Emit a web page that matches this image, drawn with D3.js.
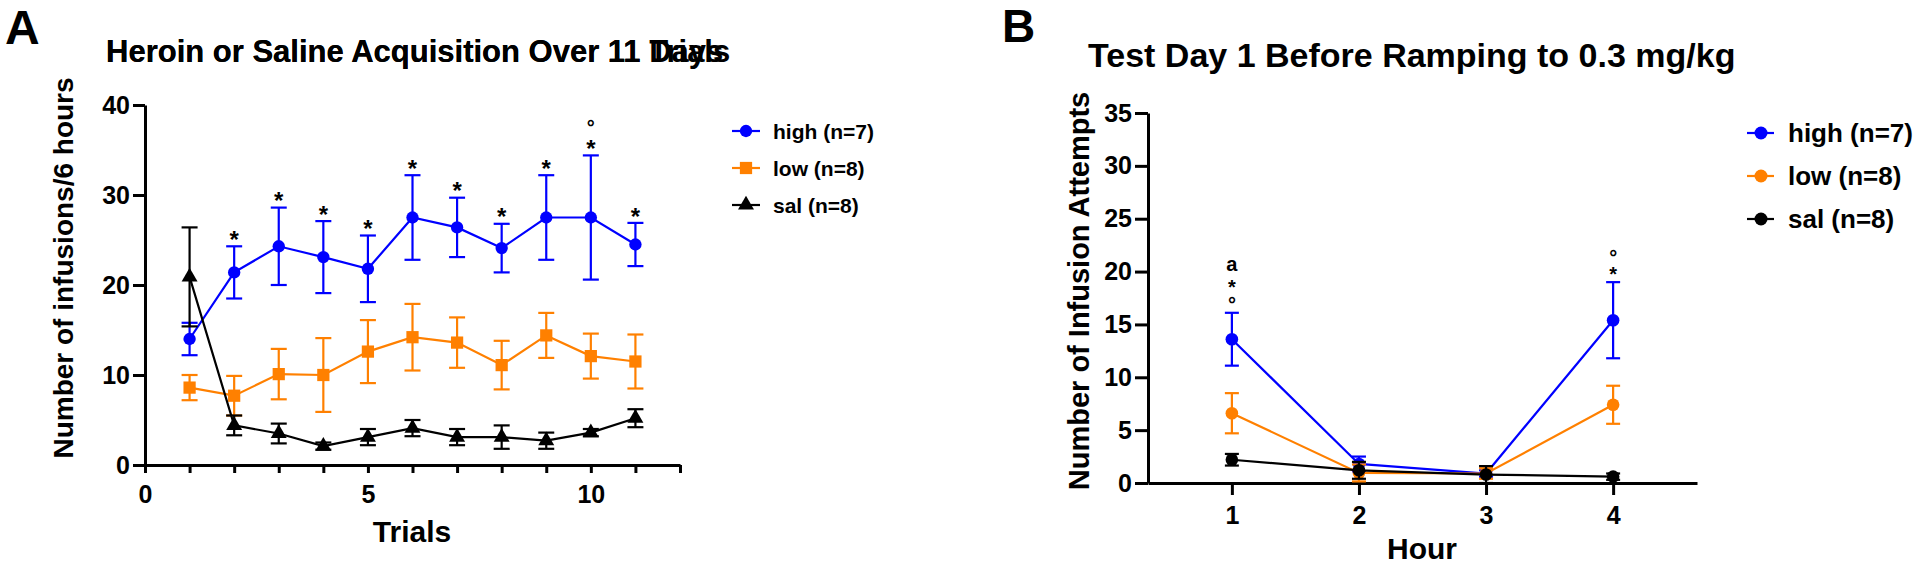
<!DOCTYPE html>
<html><head><meta charset="utf-8">
<script src="https://cdn.jsdelivr.net/npm/d3@7"></script>
<style>
body{margin:0;background:#fff}
svg{display:block}
text{font-family:"Liberation Sans",Arial,Helvetica,sans-serif;font-weight:bold;fill:#000}
</style>
</head><body>
<svg id="c" width="1920" height="565"></svg>
<script>
// ---------- DATA ----------
const trials = [1,2,3,4,5,6,7,8,9,10,11];
const highA = [14.0,21.4,24.3,23.1,21.8,27.5,26.4,24.1,27.5,27.5,24.5];
const highAsem = [1.8,2.9,4.3,4.0,3.7,4.7,3.3,2.7,4.7,6.9,2.4];
const lowA = [8.6,7.7,10.1,10.0,12.6,14.2,13.6,11.1,14.4,12.1,11.5];
const lowAsem = [1.4,2.2,2.8,4.1,3.5,3.7,2.8,2.7,2.5,2.5,3.0];
const salA = [20.9,4.4,3.5,2.1,3.1,4.1,3.1,3.1,2.7,3.6,5.2];
const salAsem = [5.5,1.1,1.1,0.4,0.9,0.9,0.9,1.3,0.9,0.4,1.0];
const xTicksA = [0,1,2,3,4,5,6,7,8,9,10,11,12];
const xLabelsA = [0,5,10];
const yTicksA = [0,10,20,30,40];
const annTrialsA = [2,3,4,5,6,7,8,9,10,11];
const annMarksA = [["*"],["*"],["*"],["*"],["*"],["*"],["*"],["*"],["*","°"],["*"]];

const hours = [1,2,3,4];
const highB = [13.6,1.8,0.9,15.4];
const highBsem = [2.5,0.7,0.3,3.6];
const lowB = [6.6,0.95,0.9,7.4];
const lowBsem = [1.9,0.8,0.5,1.8];
const salB = [2.2,1.2,0.8,0.6];
const salBsem = [0.55,0.8,0.8,0.3];
const yTicksB = [0,5,10,15,20,25,30,35];
const annHoursB = [1,4];
const annMarksB = [["°","*","a"],["*","°"]];

const seriesNames = ["high (n=7)","low (n=8)","sal (n=8)"];
const colors = ["#0000ff","#ff8000","#000000"];

// ---------- SETUP ----------
const svg = d3.select("#c");

function styleAxis(g, fs){
  g.selectAll(".domain").attr("stroke","#000").attr("stroke-width",3);
  g.selectAll(".tick line").attr("stroke","#000").attr("stroke-width",3);
  g.selectAll(".tick text").attr("fill","#000").style("font-size",fs+"px")
    .style("font-family",'"Liberation Sans",Arial,sans-serif').style("font-weight","bold");
}

function glyphBaseOffset(ch, fs){
  if (ch === "a") return 0.27*fs;
  return 0.57*fs;
}

function drawSeries(g, x, y, xs, means, sems, color, sym, symSize, capHalf){
  const line = d3.line().x((d,i)=>x(xs[i])).y(d=>y(d));
  g.append("path").datum(means).attr("d",line).attr("fill","none")
    .attr("stroke",color).attr("stroke-width",2.2);
  const eb = g.append("g").attr("stroke",color).attr("stroke-width",2.2);
  means.forEach((m,i)=>{
    const cx = x(xs[i]), y1 = y(m+sems[i]), y0 = y(m-sems[i]);
    eb.append("line").attr("x1",cx).attr("x2",cx).attr("y1",y1).attr("y2",y0);
    eb.append("line").attr("x1",cx-capHalf).attr("x2",cx+capHalf).attr("y1",y1).attr("y2",y1);
    eb.append("line").attr("x1",cx-capHalf).attr("x2",cx+capHalf).attr("y1",y0).attr("y2",y0);
  });
  g.selectAll(null).data(means).enter().append("path")
    .attr("d", d3.symbol().type(sym).size(symSize))
    .attr("transform",(d,i)=>`translate(${x(xs[i])},${y(d)})`)
    .attr("fill",color);
}

// ---------- PANEL A ----------
const xA = d3.scaleLinear().domain([0,12]).range([145,680]);
const yA = d3.scaleLinear().domain([0,40]).range([465,105]);

svg.append("text").attr("x",5).attr("y",44).style("font-size","48px").text("A");
svg.append("text").attr("x",106).attr("y",62).style("font-size","31px").text("Heroin or Saline Acquisition Over 11 Trials");
svg.append("text").attr("x",106).attr("y",62).style("font-size","31px").text("Heroin or Saline Acquisition Over 11 Days");

const gAy = svg.append("g").attr("transform","translate(145,0)")
  .call(d3.axisLeft(yA).tickValues(yTicksA).tickSize(12).tickSizeOuter(0).tickPadding(3));
styleAxis(gAy, 25);
const gAx = svg.append("g").attr("transform","translate(0,465)")
  .call(d3.axisBottom(xA).tickValues(xTicksA).tickSize(8).tickSizeOuter(0).tickPadding(12)
    .tickFormat(d=> xLabelsA.includes(d) ? d : ""));
styleAxis(gAx, 25);

svg.append("text").attr("x",412).attr("y",542).attr("text-anchor","middle").style("font-size","30px").text("Trials");
svg.append("text").attr("transform","translate(73,268) rotate(-90)").attr("text-anchor","middle")
  .style("font-size","28px").text("Number of infusions/6 hours");

const gA = svg.append("g");
drawSeries(gA, xA, yA, trials, highA, highAsem, colors[0], d3.symbolCircle, 120, 8);
drawSeries(gA, xA, yA, trials, lowA, lowAsem, colors[1], d3.symbolSquare, 150, 8);
drawSeries(gA, xA, yA, trials, salA, salAsem, colors[2], d3.symbolTriangle, 110, 8);

annTrialsA.forEach((t,i)=>{
  const idx = trials.indexOf(t);
  const top = yA(highA[idx]+highAsem[idx]);
  annMarksA[i].forEach((ch,k)=>{
    const fs = ch==="*"?24:20;
    const cy = top - 12 - k*21;
    svg.append("text").attr("x",xA(t)).attr("y",cy+glyphBaseOffset(ch,fs))
      .attr("text-anchor","middle").style("font-size",fs+"px").text(ch);
  });
});

// legend A
const legSymA = [d3.symbolCircle,d3.symbolSquare,d3.symbolTriangle];
seriesNames.forEach((n,i)=>{
  const cy = 131 + i*37;
  svg.append("line").attr("x1",732).attr("x2",760).attr("y1",cy).attr("y2",cy)
    .attr("stroke",colors[i]).attr("stroke-width",2.2);
  svg.append("path").attr("d",d3.symbol().type(legSymA[i]).size(i===1?150:(i===2?110:120)))
    .attr("transform",`translate(746,${cy})`).attr("fill",colors[i]);
  svg.append("text").attr("x",773).attr("y",cy+7.5).style("font-size","21px").text(n);
});

// ---------- PANEL B ----------
const xB = d3.scaleLinear().domain([0.34,4.66]).range([1148,1697]);
const yB = d3.scaleLinear().domain([0,35]).range([483,113]);

svg.append("text").attr("x",1002).attr("y",42).style("font-size","46px").text("B");
svg.append("text").attr("x",1088).attr("y",67).style("font-size","34px").text("Test Day 1 Before Ramping to 0.3 mg/kg");

const gBy = svg.append("g").attr("transform","translate(1148,0)")
  .call(d3.axisLeft(yB).tickValues(yTicksB).tickSize(13).tickSizeOuter(0).tickPadding(3));
styleAxis(gBy, 25);
const gBx = svg.append("g").attr("transform","translate(0,483)")
  .call(d3.axisBottom(xB).tickValues(hours).tickSize(12).tickSizeOuter(0).tickPadding(11).tickFormat(d3.format("d")));
styleAxis(gBx, 25);

svg.append("text").attr("x",1422).attr("y",559).attr("text-anchor","middle").style("font-size","30px").text("Hour");
svg.append("text").attr("transform","translate(1089,291) rotate(-90)").attr("text-anchor","middle")
  .style("font-size","29px").text("Number of Infusion Attempts");

const gB = svg.append("g");
drawSeries(gB, xB, yB, hours, highB, highBsem, colors[0], d3.symbolCircle, 125, 7);
drawSeries(gB, xB, yB, hours, lowB, lowBsem, colors[1], d3.symbolCircle, 125, 7);
drawSeries(gB, xB, yB, hours, salB, salBsem, colors[2], d3.symbolCircle, 125, 7);

annHoursB.forEach((h,i)=>{
  const idx = hours.indexOf(h);
  const top = yB(highB[idx]+highBsem[idx]);
  annMarksB[i].forEach((ch,k)=>{
    const fs = 20;
    const cy = top - 13 - k*17;
    svg.append("text").attr("x",xB(h)).attr("y",cy+glyphBaseOffset(ch,fs))
      .attr("text-anchor","middle").style("font-size",fs+"px").text(ch);
  });
});

seriesNames.forEach((n,i)=>{
  const cy = 133 + i*43;
  svg.append("line").attr("x1",1747).attr("x2",1774).attr("y1",cy).attr("y2",cy)
    .attr("stroke",colors[i]).attr("stroke-width",2.2);
  svg.append("circle").attr("cx",1761).attr("cy",cy).attr("r",6.5).attr("fill",colors[i]);
  svg.append("text").attr("x",1788).attr("y",cy+9).style("font-size","26px").text(n);
});
</script>
</body></html>
